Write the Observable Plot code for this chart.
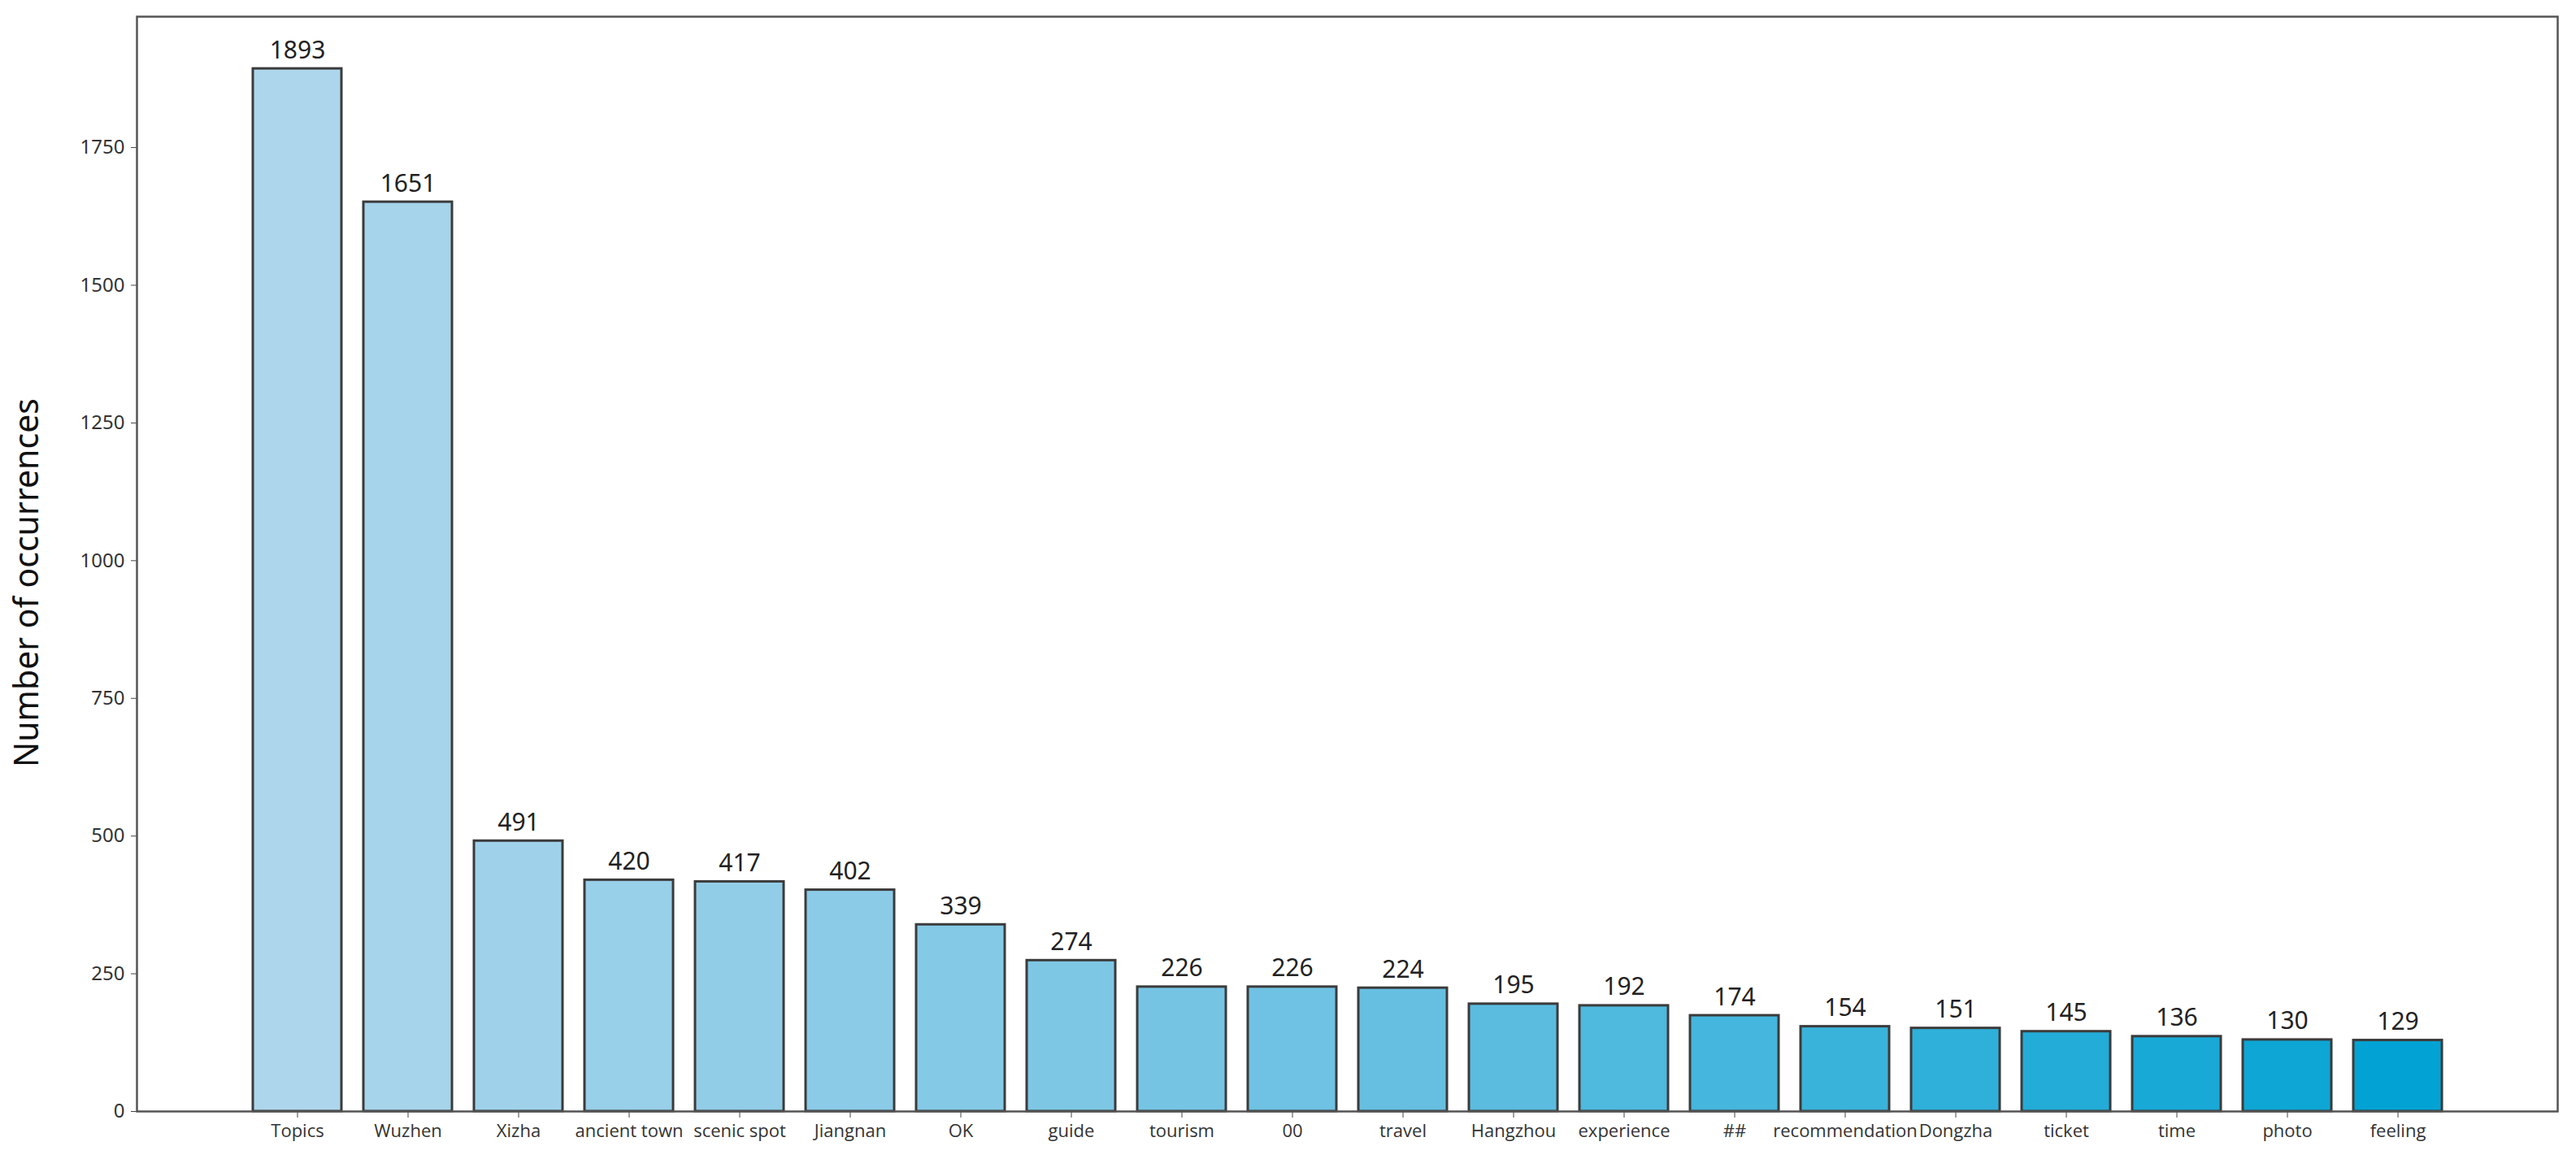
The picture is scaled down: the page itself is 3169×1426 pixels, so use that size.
<!DOCTYPE html>
<html><head><meta charset="utf-8">
<script src="https://cdn.jsdelivr.net/npm/d3@7"></script>
<script src="https://cdn.jsdelivr.net/npm/@observablehq/plot@0.6"></script>
<style>body{margin:0;background:#fff}</style>
</head><body><div id="chart"></div>
<script>
const categories = ["Topics","Wuzhen","Xizha","ancient town","scenic spot","Jiangnan","OK","guide","tourism","00","travel","Hangzhou","experience","##","recommendation","Dongzha","ticket","time","photo","feeling"];
const counts = [1893,1651,491,420,417,402,339,274,226,226,224,195,192,174,154,151,145,136,130,129];
const yTicks = [0,250,500,750,1000,1250,1500,1750];
const colorStops = ["#add6ec","#6cc1e2","#02a3d4"];
const yLabel = "Number of occurrences";

const data = categories.map((c,i)=>({word:c, count:counts[i], rank:i}));

const chart = Plot.plot({
  width:3169, height:1426,
  marginTop:20, marginLeft:168, marginRight:23, marginBottom:59,
  style:{fontFamily:"'Noto Sans', sans-serif", background:"#fff", color:"#333"},
  x:{domain:categories, paddingInner:0.2, paddingOuter:0.97, label:null},
  y:{domain:[0, d3.max(counts)*1.05], label:null},
  color:{type:"linear", domain:[0, categories.length-1], interpolate: d3.piecewise(d3.interpolateRgb, colorStops)},
  marks:[
    Plot.barY(data,{x:"word", y:"count", fill:"rank", stroke:"#3b3b3b", strokeWidth:3}),
    Plot.text(data,{x:"word", y:"count", text:d=>String(d.count), lineAnchor:"bottom", dy:-13, fontSize:30, fill:"#222"}),
    Plot.axisY({ticks:yTicks, tickFormat:d=>String(d), tickSize:7, tickPadding:8, fontSize:24, label:null, stroke:"#444"}),
    Plot.axisX({tickSize:8, tickPadding:8, fontSize:22, label:null, stroke:"#444", fontFamily:"'Open Sans', sans-serif"}),
    Plot.frame({stroke:"#555", strokeWidth:2.5}),
    Plot.text([yLabel], {frameAnchor:"left", textAnchor:"middle", rotate:-90, dx:-135, dy:23, fontSize:41, fill:"#111"})
  ]
});
document.getElementById("chart").appendChild(chart);
</script>
</body></html>
